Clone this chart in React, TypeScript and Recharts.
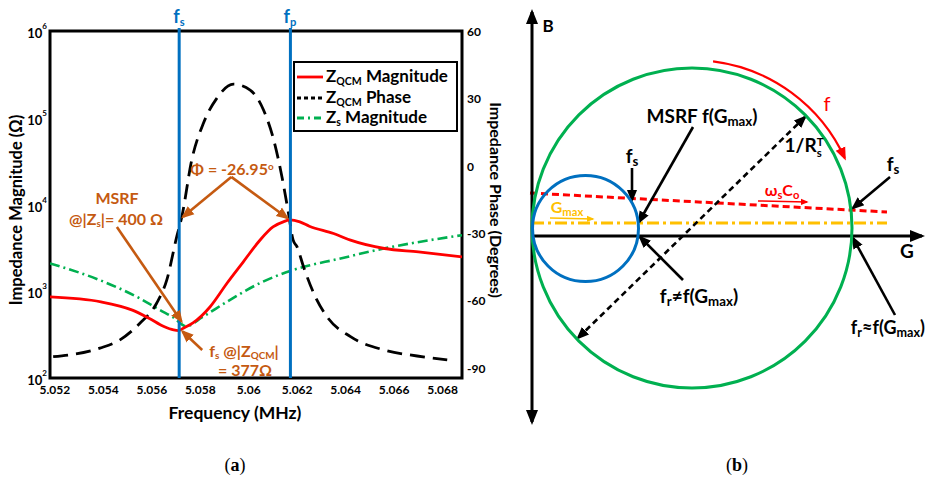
import React from 'react'
import { LineChart, Line, XAxis, YAxis, ReferenceLine, ReferenceArea, ScatterChart, Scatter } from 'recharts'

const FONT = 'Lato, "Open Sans", sans-serif'

// ---- panel (a): impedance sweep ----
const freqTicks = [5.052, 5.054, 5.056, 5.058, 5.06, 5.062, 5.064, 5.066, 5.068]
const magTicks = [100, 1000, 10000, 100000, 1000000]
const phaseTicks = [-90, -60, -30, 0, 30, 60]

// |Z_QCM| (ohm)
const zqcmMag = [
  { f: 5.0518, v: 860 }, { f: 5.0539, v: 755 }, { f: 5.0552, v: 606 }, { f: 5.0559, v: 486 },
  { f: 5.0565, v: 392 }, { f: 5.0569, v: 358 }, { f: 5.0571, v: 352 }, { f: 5.0573, v: 375 },
  { f: 5.0577, v: 431 }, { f: 5.0584, v: 658 }, { f: 5.05911, v: 1245 }, { f: 5.05977, v: 2172 },
  { f: 5.06047, v: 3898 }, { f: 5.061, v: 5510 }, { f: 5.06145, v: 6350 }, { f: 5.0617, v: 6640 },
  { f: 5.06211, v: 6300 }, { f: 5.0625, v: 5620 }, { f: 5.0635, v: 4630 }, { f: 5.0642, v: 3880 },
  { f: 5.0656, v: 3110 }, { f: 5.067, v: 2845 }, { f: 5.0688, v: 2490 },
]

// phase of Z_QCM (degrees)
const zqcmPhase = [
  { f: 5.05193, v: -84.8 }, { f: 5.05386, v: -81.0 }, { f: 5.05469, v: -77.3 }, { f: 5.05551, v: -69.9 },
  { f: 5.0562, v: -61.0 }, { f: 5.05662, v: -50.6 }, { f: 5.05703, v: -31.3 }, { f: 5.05724, v: -22.4 },
  { f: 5.05765, v: 2.9 }, { f: 5.05813, v: 19.2 }, { f: 5.05868, v: 30.3 }, { f: 5.05937, v: 36.6 },
  { f: 5.06006, v: 34.0 }, { f: 5.06061, v: 25.1 }, { f: 5.06103, v: 11.8 }, { f: 5.06137, v: -4.6 },
  { f: 5.06164, v: -20.9 }, { f: 5.06183, v: -32.8 }, { f: 5.06199, v: -35.8 }, { f: 5.06226, v: -44.7 },
  { f: 5.06268, v: -56.5 }, { f: 5.06323, v: -67.0 }, { f: 5.0642, v: -75.9 }, { f: 5.06557, v: -81.8 },
  { f: 5.06695, v: -84.5 }, { f: 5.06819, v: -86.2 },
]

// |Z_s| (ohm)
const zsMag = [
  { f: 5.0518, v: 2090 }, { f: 5.05386, v: 1342 }, { f: 5.05551, v: 826 }, { f: 5.05634, v: 606 },
  { f: 5.05689, v: 499 }, { f: 5.05742, v: 395 }, { f: 5.05811, v: 508 }, { f: 5.05911, v: 760 },
  { f: 5.06047, v: 1245 }, { f: 5.06183, v: 1758 }, { f: 5.06253, v: 1995 }, { f: 5.0635, v: 2290 },
  { f: 5.06557, v: 3110 }, { f: 5.0688, v: 4430 },
]

const fs = 5.05713
const fp = 5.06172

// annotation arrows in (frequency, phase) units
const phiArrows = [
  [{ x: 5.05928, y: -4.7 }, { x: 5.05729, y: -22.5 }],
  [{ x: 5.05928, y: -4.7 }, { x: 5.06159, y: -23.0 }],
]
const msrfArrow = [{ x: 5.05456, y: -27 }, { x: 5.05722, y: -69.0 }]
const fsArrow = [{ x: 5.05808, y: -81.8 }, { x: 5.05727, y: -73.6 }]

// ---- panel (b): admittance diagram, arbitrary units ----
const gAxis = [{ x: 0, y: 0 }, { x: 39, y: 0 }]
const bAxis = [{ x: 0, y: -18.6 }, { x: 0, y: 22.4 }]
const admittanceCircle = [{ g: 16, b: 0.8, r: 16 }]
const motionalCircle = [{ g: 5.35, b: 0.75, r: 5.3 }]
const freqArc = [{ g: 16, b: 0.8, r: 16.8, from: 82.8, to: 24.6 }]
const wsCoLine = [{ x: -0.2, y: 4.3 }, { x: 35.5, y: 2.4 }]
const gmaxLine = [{ x: 0, y: 1.3 }, { x: 35.5, y: 1.3 }]
const diameter = [{ x: 27.3, y: 11.9 }, { x: 4.6, y: -10.2 }]
const pointers = [
  [{ x: 16.1, y: 10.9 }, { x: 10.7, y: 1.4 }],
  [{ x: 10.0, y: 6.8 }, { x: 10.0, y: 3.6 }],
  [{ x: 35.8, y: 5.9 }, { x: 32.1, y: 2.8 }],
  [{ x: 15.1, y: -4.4 }, { x: 10.8, y: -0.1 }],
  [{ x: 36.3, y: -7.9 }, { x: 32.1, y: -0.2 }],
]
const wsCoArrow = [{ x: 22.6, y: 3.5 }, { x: 27.5, y: 3.4 }]
const gmaxArrow = [{ x: 1.8, y: 1.8 }, { x: 6.1, y: 1.7 }]

const B_DOMAIN_G = [-1, 39]
const B_DOMAIN_B = [-19, 23]
const B_W = 428
const B_H = 430
const B_MARGIN = { top: 6, right: 6, bottom: 4, left: 22 }
const PX = (B_W - B_MARGIN.left - B_MARGIN.right) / (B_DOMAIN_G[1] - B_DOMAIN_G[0])

const fmtFreq = (v: number) => String(Number(v.toFixed(3)))

function Markers() {
  const defs = [
    { id: 'arBrown', c: '#C55A11', s: 13 },
    { id: 'arBlack', c: '#000', s: 13 },
    { id: 'arAxis', c: '#000', s: 15 },
    { id: 'arRed', c: '#FF0000', s: 13 },
    { id: 'arRedS', c: '#FF0000', s: 8 },
    { id: 'arGold', c: '#FFC000', s: 8 },
  ]
  return (
    <svg width={0} height={0} style={{ position: 'absolute' }}>
      <defs>
        {defs.map((d) => (
          <marker key={d.id} id={d.id} viewBox="0 0 10 10" refX={8} refY={5}
            markerWidth={d.s} markerHeight={d.s} markerUnits="userSpaceOnUse" orient="auto-start-reverse">
            <path d="M0,1 L10,5 L0,9 z" fill={d.c} />
          </marker>
        ))}
      </defs>
    </svg>
  )
}

function PowTick(props: any) {
  const { x, y, payload } = props
  const exp = Math.round(Math.log10(payload.value))
  return (
    <text x={x} y={y + 2} textAnchor="end" dominantBaseline="central" fontFamily={FONT} fontWeight={700} fontSize={13} fill="#000">
      10<tspan dy={-7} fontSize={8}>{exp}</tspan>
    </text>
  )
}

const tickStyle = { fill: '#000', fontSize: 12, fontWeight: 700, fontFamily: FONT }

function PanelA() {
  return (
    <LineChart width={520} height={420} margin={{ top: 31, right: 0, bottom: 0, left: 0 }}>
      <XAxis type="number" dataKey="f" domain={[5.0518, 5.0688]} allowDataOverflow ticks={freqTicks} interval={0}
        tickFormatter={fmtFreq} axisLine={false} tickLine={false} tickSize={0} tickMargin={7} height={42} tick={tickStyle} />
      <YAxis yAxisId="mag" scale="log" domain={[100, 1000000]} allowDataOverflow ticks={magTicks} interval={0}
        width={50} axisLine={false} tickLine={false} tickSize={0} tickMargin={3} tick={<PowTick />} />
      <YAxis yAxisId="phase" orientation="right" type="number" domain={[-94.3, 60.3]} allowDataOverflow ticks={phaseTicks}
        interval={0} width={58} axisLine={false} tickLine={false} tickSize={0} tickMargin={5} tick={tickStyle} />

      <Line yAxisId="mag" data={zsMag} dataKey="v" type="monotone" stroke="#00B050" strokeWidth={2.6}
        strokeDasharray="10 4 2 4" dot={false} isAnimationActive={false} />
      <Line yAxisId="phase" data={zqcmPhase} dataKey="v" type="monotone" stroke="#000" strokeWidth={2.8}
        strokeDasharray="15 8" dot={false} isAnimationActive={false} />
      <Line yAxisId="mag" data={zqcmMag} dataKey="v" type="monotone" stroke="#FF0000" strokeWidth={2.8}
        dot={false} isAnimationActive={false} />

      <ReferenceLine yAxisId="phase" segment={[{ x: fs, y: -94.3 }, { x: fs, y: 61.6 }]} stroke="#0070C0" strokeWidth={3} ifOverflow="visible" />
      <ReferenceLine yAxisId="phase" segment={[{ x: fp, y: -94.3 }, { x: fp, y: 61.6 }]} stroke="#0070C0" strokeWidth={3} ifOverflow="visible" />

      {phiArrows.map((seg, i) => (
        <ReferenceLine key={i} yAxisId="phase" segment={seg} stroke="#C55A11" strokeWidth={2.6} markerEnd="url(#arBrown)" ifOverflow="visible" />
      ))}
      <ReferenceLine yAxisId="phase" segment={msrfArrow} stroke="#C55A11" strokeWidth={2.6} markerEnd="url(#arBrown)" ifOverflow="visible" />
      <ReferenceLine yAxisId="phase" segment={fsArrow} stroke="#C55A11" strokeWidth={2.6} markerEnd="url(#arBrown)" ifOverflow="visible" />

      <ReferenceArea yAxisId="mag" x1={5.0518} x2={5.0688} y1={100} y2={1000000} fill="none" stroke="#000" strokeWidth={3} ifOverflow="visible" />
    </LineChart>
  )
}

const circleShape = (color: string) => (p: any) => (
  <circle cx={p.cx} cy={p.cy} r={p.payload.r * PX} fill="none" stroke={color} strokeWidth={3} />
)

const arcShape = (p: any) => {
  const { r, from, to } = p.payload
  const R = r * PX
  const a0 = (from * Math.PI) / 180
  const a1 = (to * Math.PI) / 180
  const x0 = p.cx + R * Math.cos(a0)
  const y0 = p.cy - R * Math.sin(a0)
  const x1 = p.cx + R * Math.cos(a1)
  const y1 = p.cy - R * Math.sin(a1)
  return <path d={`M${x0},${y0} A${R},${R} 0 0 1 ${x1},${y1}`} fill="none" stroke="#FF0000" strokeWidth={2.2} markerEnd="url(#arRed)" />
}

function PanelB() {
  return (
    <ScatterChart width={B_W} height={B_H} margin={B_MARGIN}>
      <XAxis type="number" dataKey="g" domain={B_DOMAIN_G} allowDataOverflow hide />
      <YAxis type="number" dataKey="b" domain={B_DOMAIN_B} allowDataOverflow hide />

      <Scatter data={admittanceCircle} shape={circleShape('#00B050')} isAnimationActive={false} />
      <Scatter data={motionalCircle} shape={circleShape('#0070C0')} isAnimationActive={false} />
      <Scatter data={freqArc} shape={arcShape} isAnimationActive={false} />

      <ReferenceLine segment={gmaxLine} stroke="#FFC000" strokeWidth={3} strokeDasharray="12 4 3 4" ifOverflow="visible" />
      <ReferenceLine segment={wsCoLine} stroke="#FF0000" strokeWidth={3} strokeDasharray="7 4" ifOverflow="visible" />
      <ReferenceLine segment={gAxis} stroke="#000" strokeWidth={3} markerEnd="url(#arAxis)" ifOverflow="visible" />
      <ReferenceLine segment={bAxis} stroke="#000" strokeWidth={3} markerStart="url(#arAxis)" markerEnd="url(#arAxis)" ifOverflow="visible" />
      <ReferenceLine segment={diameter} stroke="#000" strokeWidth={2.6} strokeDasharray="6 4"
        markerStart="url(#arBlack)" markerEnd="url(#arBlack)" ifOverflow="visible" />
      {pointers.map((seg, i) => (
        <ReferenceLine key={i} segment={seg} stroke="#000" strokeWidth={2.6} markerEnd="url(#arBlack)" ifOverflow="visible" />
      ))}
      <ReferenceLine segment={wsCoArrow} stroke="#FF0000" strokeWidth={1.5} markerEnd="url(#arRedS)" ifOverflow="visible" />
      <ReferenceLine segment={gmaxArrow} stroke="#FFC000" strokeWidth={1.5} markerEnd="url(#arGold)" ifOverflow="visible" />
    </ScatterChart>
  )
}

function Note({ x, y, children, color = '#000', size = 16, anchor = 'middle', weight = 700, rotate = 0, family = FONT }: any) {
  const tx = anchor === 'middle' ? '-50%' : anchor === 'end' ? '-100%' : '0'
  return (
    <div style={{
      position: 'absolute', left: x, top: y, transform: `translate(${tx},-50%) rotate(${rotate}deg)`,
      color, fontSize: size, fontWeight: weight, whiteSpace: 'nowrap', lineHeight: 1, fontFamily: family,
    }}>{children}</div>
  )
}

const Sub = ({ children, k = 0.62 }: any) => <span style={{ fontSize: `${k}em`, verticalAlign: '-0.25em' }}>{children}</span>
const Sup = ({ children }: any) => <span style={{ fontSize: '0.62em', verticalAlign: '0.55em' }}>{children}</span>

function LegendBox() {
  const rows = [
    { sub: 'QCM', label: 'Magnitude', stroke: '#FF0000', dash: undefined },
    { sub: 'QCM', label: 'Phase', stroke: '#000', dash: '4 3' },
    { sub: 's', label: 'Magnitude', stroke: '#00B050', dash: '7 4 2 4' },
  ]
  return (
    <div style={{
      position: 'absolute', left: 293, top: 61, width: 161, height: 67, border: '2.5px solid #000', background: '#fff',
      fontFamily: FONT, fontWeight: 700, fontSize: 17, color: '#000',
    }}>
      {rows.map((r, i) => (
        <div key={i} style={{ position: 'absolute', left: 1, top: 4 + i * 20.5, height: 20, display: 'flex', alignItems: 'center', lineHeight: 1 }}>
          <svg width={28} height={10}><line x1={1} y1={5} x2={27} y2={5} stroke={r.stroke} strokeWidth={2.8} strokeDasharray={r.dash} /></svg>
          <span style={{ marginLeft: 2 }}>Z<Sub>{r.sub}</Sub> {r.label}</span>
        </div>
      ))}
    </div>
  )
}

export default function App() {
  const brown = '#C55A11'
  const serif = '"Liberation Serif", "DejaVu Serif", serif'
  return (
    <div style={{ position: 'absolute', left: 0, top: 0, width: 928, height: 481, overflow: 'hidden', background: '#fff', fontFamily: FONT }}>
      <Markers />
      <div style={{ position: 'absolute', left: 0, top: 0 }}><PanelA /></div>
      <div style={{ position: 'absolute', left: 500, top: 0 }}><PanelB /></div>

      {/* panel (a) texts */}
      <Note x={179} y={17} color="#0070C0" size={18}>f<Sub>s</Sub></Note>
      <Note x={290} y={17} color="#0070C0" size={18}>f<Sub>p</Sub></Note>
      <LegendBox />
      <Note x={232} y={169} color={brown}>Φ = -26.95<Sup>o</Sup></Note>
      <Note x={117} y={198} color={brown}>MSRF</Note>
      <Note x={116} y={220} color={brown}>@|Z<Sub>s</Sub>|= 400 Ω</Note>
      <Note x={244} y={352} color={brown}>f<Sub>s</Sub> @|Z<Sub>QCM</Sub>|</Note>
      <Note x={245} y={370} color={brown}>= 377Ω</Note>
      <Note x={16} y={210} size={16.5} rotate={-90}>Impedance Magnitude (Ω)</Note>
      <Note x={496} y={200} size={16} rotate={90}>Impedance Phase (Degrees)</Note>
      <Note x={235} y={413} size={17.5}>Frequency (MHz)</Note>
      <Note x={235} y={465} size={18} weight={400} family={serif}>(<b>a</b>)</Note>

      {/* panel (b) texts */}
      <Note x={548} y={25} size={17}>B</Note>
      <Note x={907} y={250} size={19}>G</Note>
      <Note x={702} y={117} size={19}>MSRF f(G<Sub k={0.7}>max</Sub>)</Note>
      <Note x={804} y={147} size={19}>1/R<span style={{ display: 'inline-flex', flexDirection: 'column', fontSize: '0.6em', lineHeight: 1, verticalAlign: 'middle' }}><span>T</span><span>s</span></span></Note>
      <Note x={827} y={103} size={20} weight={400} color="#FF0000">f</Note>
      <Note x={632} y={157} size={19}>f<Sub k={0.7}>s</Sub></Note>
      <Note x={893} y={165} size={19}>f<Sub k={0.7}>s</Sub></Note>
      <Note x={782} y={191} size={16} color="#FF0000">ω<Sub k={0.7}>s</Sub>C<Sub k={0.7}>o</Sub></Note>
      <Note x={567} y={208} size={16} color="#FFC000">G<Sub k={0.7}>max</Sub></Note>
      <Note x={699} y={297} size={19}>f<Sub k={0.7}>r</Sub>≠f(G<Sub k={0.7}>max</Sub>)</Note>
      <Note x={925} y={329} size={18} anchor="end">f<Sub k={0.7}>r</Sub>≈f(G<Sub k={0.7}>max</Sub>)</Note>
      <Note x={737} y={465} size={18} weight={400} family={serif}>(<b>b</b>)</Note>
    </div>
  )
}
